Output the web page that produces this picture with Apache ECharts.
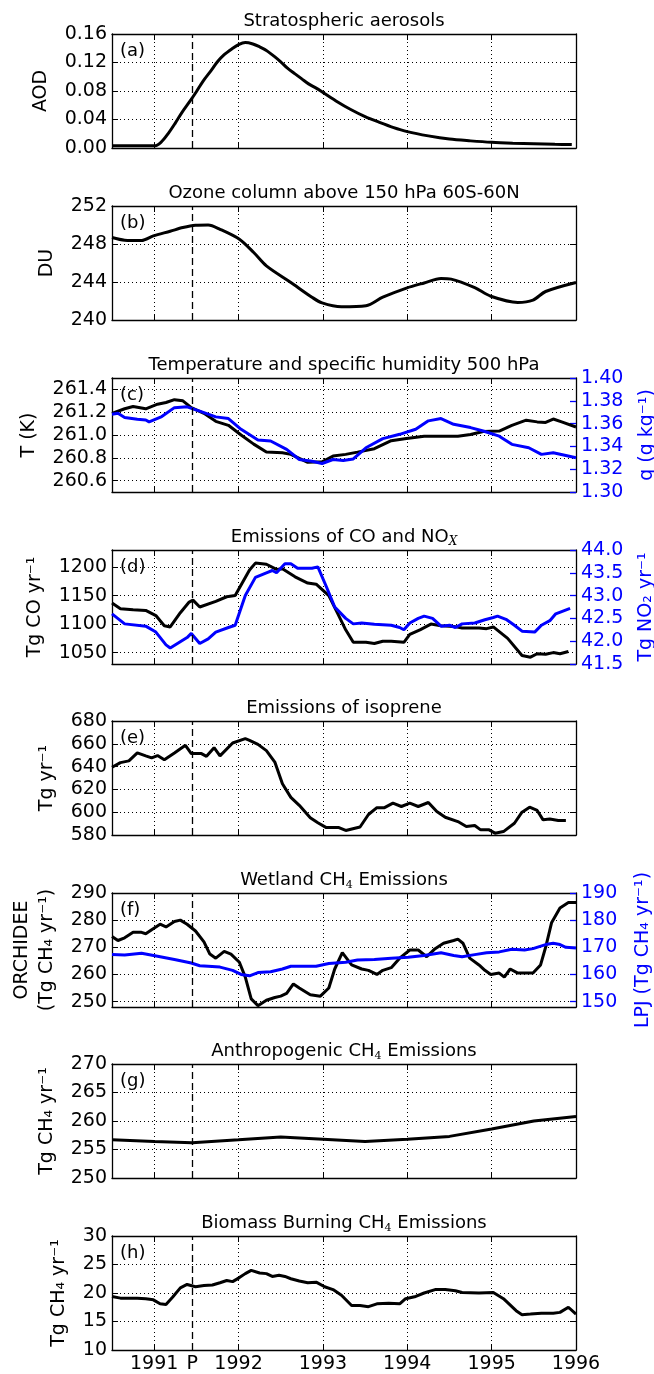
<!DOCTYPE html>
<html>
<head>
<meta charset="utf-8">
<script src="https://cdn.jsdelivr.net/npm/echarts@6.0.0/dist/echarts.min.js"></script>
<style>
  html, body { margin: 0; padding: 0; background: #fff; }
  #main { width: 654px; height: 1374px; }
</style>
</head>
<body>
<div id="main"></div>
<script>
// ---- x axis ----
const yearTicks = [1991, 1992, 1993, 1994, 1995, 1996];
const eruption = 1991.45;   // "P" = Pinatubo
const xLabelVals = [1991, 1991.45, 1992, 1993, 1994, 1995, 1996];

// ---- (a) stratospheric AOD ----
const tAod = [1990.50, 1991.00, 1991.08, 1991.17, 1991.25, 1991.33, 1991.42, 1991.50, 1991.58, 1991.67, 1991.75, 1991.83, 1991.92,
  1992.00, 1992.08, 1992.17, 1992.25, 1992.33, 1992.42, 1992.50, 1992.58, 1992.67, 1992.75, 1992.83, 1992.92,
  1993.00, 1993.17, 1993.33, 1993.50, 1993.67, 1993.83, 1994.00, 1994.25, 1994.50, 1994.75, 1995.00, 1995.25, 1995.50, 1995.75, 1995.95];
const aod = [0.003, 0.003, 0.008, 0.021, 0.035, 0.050, 0.065, 0.079, 0.094, 0.108, 0.121, 0.131, 0.139,
  0.145, 0.148, 0.146, 0.142, 0.137, 0.129, 0.121, 0.112, 0.104, 0.097, 0.090, 0.084,
  0.078, 0.065, 0.054, 0.044, 0.036, 0.029, 0.023, 0.017, 0.0125, 0.010, 0.008, 0.0068, 0.006, 0.0052, 0.0048];
const aodTicks = [0, 0.04, 0.08, 0.12, 0.16];

// ---- (b) ozone column ----
const tOzone = [1990.50, 1990.65, 1990.85, 1990.99, 1991.19, 1991.34, 1991.49, 1991.64, 1991.78, 1992.01, 1992.18, 1992.33,
  1992.62, 1992.87, 1992.99, 1993.22, 1993.51, 1993.71, 1993.99, 1994.20, 1994.40, 1994.52, 1994.80, 1994.99,
  1995.31, 1995.49, 1995.64, 1996.00];
const ozone = [248.68, 248.4, 248.36, 248.85, 249.34, 249.73, 249.97, 250.0, 249.55, 248.5, 247.1, 245.7,
  243.95, 242.4, 241.8, 241.4, 241.5, 242.4, 243.36, 243.9, 244.37, 244.3, 243.4, 242.5,
  241.85, 242.1, 243.0, 243.95];
const ozoneTicks = [240, 244, 248, 252];

// ---- (c) temperature and humidity 500 hPa ----
const tTemp = [1990.50, 1990.65, 1990.75, 1990.90, 1991.04, 1991.14, 1991.24, 1991.34, 1991.44, 1991.59, 1991.73, 1991.88,
  1992.03, 1992.18, 1992.33, 1992.52, 1992.62, 1992.82, 1992.99, 1993.12, 1993.27, 1993.41, 1993.61, 1993.81, 1993.99,
  1994.20, 1994.40, 1994.60, 1994.75, 1994.90, 1995.09, 1995.24, 1995.41, 1995.54, 1995.64, 1995.73, 1995.83, 1996.00];
const temp = [261.19, 261.23, 261.25, 261.23, 261.27, 261.285, 261.31, 261.30, 261.24, 261.19, 261.12, 261.085,
  261.0, 260.92, 260.85, 260.845, 260.83, 260.76, 260.765, 260.815, 260.83, 260.85, 260.88, 260.95, 260.97,
  260.99, 260.99, 260.99, 261.005, 261.03, 261.035, 261.085, 261.13, 261.115, 261.11, 261.14, 261.115, 261.07];
const tHum = [1990.50, 1990.57, 1990.65, 1990.80, 1990.90, 1990.94, 1991.09, 1991.24, 1991.39, 1991.54, 1991.73, 1991.88,
  1992.03, 1992.23, 1992.38, 1992.57, 1992.72, 1992.87, 1992.99, 1993.12, 1993.24, 1993.36, 1993.51, 1993.71, 1993.91,
  1994.10, 1994.25, 1994.40, 1994.55, 1994.75, 1994.90, 1995.09, 1995.24, 1995.44, 1995.59, 1995.73, 1995.88, 1996.00];
const hum = [1.3682, 1.369, 1.3653, 1.3638, 1.3632, 1.3615, 1.3662, 1.374, 1.3747, 1.371, 1.3659, 1.3644,
  1.355, 1.3456, 1.3447, 1.3374, 1.3285, 1.327, 1.325, 1.3285, 1.3276, 1.329, 1.3388, 1.3468, 1.3506,
  1.355, 1.3624, 1.3644, 1.3594, 1.3565, 1.3535, 1.349, 1.3418, 1.3388, 1.333, 1.3344, 1.332, 1.330];
const tempTicks = [260.6, 260.8, 261.0, 261.2, 261.4];
const humTicks = [1.30, 1.32, 1.34, 1.36, 1.38, 1.40];

// ---- (d) CO and NOx emissions ----
const tCO = [1990.50, 1990.60, 1990.75, 1990.90, 1991.02, 1991.12, 1991.19, 1991.31, 1991.41, 1991.46, 1991.54, 1991.73,
  1991.86, 1991.96, 1992.13, 1992.20, 1992.33, 1992.45, 1992.52, 1992.67, 1992.82, 1992.92, 1993.07, 1993.17,
  1993.27, 1993.36, 1993.51, 1993.61, 1993.71, 1993.81, 1993.96, 1994.03, 1994.15, 1994.28, 1994.40, 1994.55,
  1994.65, 1994.85, 1994.94, 1995.02, 1995.19, 1995.36, 1995.46, 1995.54, 1995.64, 1995.73, 1995.81, 1995.91];
const co = [1137, 1127, 1125, 1124, 1115, 1097, 1095, 1120, 1138, 1142, 1130, 1140,
  1148, 1150, 1195, 1207, 1205, 1196, 1197, 1183, 1172, 1170, 1150, 1120,
  1090, 1068, 1068, 1066, 1070, 1070, 1068, 1082, 1090, 1100, 1097, 1096,
  1093, 1093, 1092, 1095, 1075, 1045, 1042, 1048, 1047, 1050, 1048, 1052];
const tNOx = [1990.50, 1990.65, 1990.90, 1991.02, 1991.14, 1991.19, 1991.39, 1991.44, 1991.54, 1991.64, 1991.73, 1991.88,
  1991.96, 1992.08, 1992.20, 1992.33, 1992.40, 1992.45, 1992.55, 1992.62, 1992.70, 1992.87, 1992.94, 1993.04,
  1993.14, 1993.27, 1993.36, 1993.46, 1993.61, 1993.81, 1993.91, 1993.96, 1994.03, 1994.13, 1994.20, 1994.30,
  1994.40, 1994.50, 1994.57, 1994.65, 1994.80, 1994.92, 1995.02, 1995.07, 1995.17, 1995.27, 1995.36, 1995.51,
  1995.59, 1995.69, 1995.76, 1995.83, 1995.93];
const nox = [42.6, 42.38, 42.33, 42.2, 41.92, 41.85, 42.08, 42.17, 41.95, 42.05, 42.2, 42.3,
  42.35, 43.0, 43.4, 43.5, 43.55, 43.5, 43.7, 43.7, 43.6, 43.6, 43.63, 43.2,
  42.75, 42.5, 42.38, 42.4, 42.37, 42.35, 42.3, 42.25, 42.4, 42.5, 42.55, 42.5,
  42.33, 42.35, 42.3, 42.38, 42.4, 42.47, 42.52, 42.55, 42.48, 42.35, 42.22, 42.2,
  42.35, 42.45, 42.6, 42.65, 42.72];
const coTicks = [1050, 1100, 1150, 1200];
const noxTicks = [41.5, 42.0, 42.5, 43.0, 43.5, 44.0];

// ---- (e) isoprene ----
const tIso = [1990.50, 1990.60, 1990.70, 1990.80, 1990.90, 1990.97, 1991.04, 1991.12, 1991.24, 1991.37, 1991.44, 1991.56,
  1991.62, 1991.71, 1991.78, 1991.93, 1992.08, 1992.13, 1992.23, 1992.33, 1992.43, 1992.52, 1992.62, 1992.72,
  1992.85, 1992.94, 1993.04, 1993.19, 1993.27, 1993.44, 1993.54, 1993.64, 1993.73, 1993.83, 1993.93, 1994.03,
  1994.13, 1994.25, 1994.35, 1994.45, 1994.60, 1994.70, 1994.80, 1994.87, 1994.97, 1995.04, 1995.14, 1995.27,
  1995.36, 1995.45, 1995.54, 1995.61, 1995.69, 1995.79, 1995.88];
const iso = [639.4, 643.5, 645, 652, 649.4, 647.6, 649.7, 646, 652, 658.7, 651.4, 651.4,
  649, 656.6, 649.4, 660.7, 664.5, 663, 659.5, 654, 644, 625, 613, 606,
  595.2, 590.8, 586.5, 586.5, 584, 587, 598, 604, 604, 607.9, 605, 607.9,
  605, 608.5, 600.6, 595.6, 591.8, 587.4, 588.3, 584.5, 584.5, 581.6, 583, 590.3,
  600, 604.4, 601.5, 593.3, 594, 592.7, 592.7];
const isoTicks = [580, 600, 620, 640, 660, 680];

// ---- (f) wetland CH4 ----
const tOrch = [1990.50, 1990.57, 1990.65, 1990.75, 1990.85, 1990.90, 1990.97, 1991.07, 1991.14, 1991.24, 1991.31, 1991.39,
  1991.49, 1991.59, 1991.66, 1991.73, 1991.83, 1991.91, 1992.01, 1992.08, 1992.15, 1992.23, 1992.33, 1992.43,
  1992.50, 1992.57, 1992.65, 1992.72, 1992.85, 1992.97, 1993.07, 1993.14, 1993.23, 1993.34, 1993.46, 1993.54,
  1993.64, 1993.71, 1993.81, 1993.91, 1994.03, 1994.13, 1994.23, 1994.33, 1994.43, 1994.55, 1994.60, 1994.66,
  1994.74, 1994.85, 1994.92, 1994.99, 1995.09, 1995.15, 1995.22, 1995.31, 1995.49, 1995.58, 1995.64, 1995.71,
  1995.81, 1995.91, 1996.00];
const orchidee = [274, 272.5, 273.5, 275.5, 275.5, 275, 276.5, 278.5, 277.5, 279.5, 280, 278.5,
  276, 272, 267.5, 266, 268.5, 267.5, 264.5, 259, 251, 248.5, 250.5, 251.5,
  252, 253, 256.5, 255, 252.5, 252, 255, 262, 268, 263.5, 262, 261.5,
  260, 261.5, 262.5, 266, 269, 269, 266.5, 269.5, 271.5, 272.5, 273, 271.5,
  266, 263.5, 261.5, 260, 260.5, 259, 262, 260.5, 260.5, 263.5, 270, 279,
  284.5, 286.5, 286.5];
const tLpj = [1990.50, 1990.65, 1990.85, 1991.04, 1991.24, 1991.44, 1991.54, 1991.64, 1991.78, 1991.93, 1992.03, 1992.13,
  1992.23, 1992.38, 1992.52, 1992.62, 1992.77, 1992.92, 1993.07, 1993.27, 1993.41, 1993.61, 1993.81, 1994.01,
  1994.20, 1994.40, 1994.55, 1994.65, 1994.80, 1994.94, 1995.09, 1995.24, 1995.39, 1995.49, 1995.64, 1995.73,
  1995.81, 1995.88, 1996.00];
const lpj = [167.3, 167.2, 167.8, 166.7, 165.5, 164.2, 163.2, 163, 162.7, 161.5, 160, 159.5,
  160.7, 161, 162, 163, 163, 163, 164, 164.5, 165.3, 165.5, 166, 166.3,
  167, 168, 167, 166.5, 167.3, 168, 168.3, 169.3, 169, 169.5, 171, 171.5,
  171, 170, 169.7];
const orchTicks = [250, 260, 270, 280, 290];
const lpjTicks = [150, 160, 170, 180, 190];

// ---- (g) anthropogenic CH4 ----
const tAnth = [1990.5, 1991.0, 1991.45, 1992.0, 1992.5, 1993.0, 1993.5, 1994.0, 1994.5, 1995.0, 1995.5, 1996.0];
const anth = [256.7, 256.4, 256.2, 256.7, 257.2, 256.8, 256.4, 256.8, 257.3, 258.6, 260.0, 260.8];
const anthTicks = [250, 255, 260, 265, 270];

// ---- (h) biomass burning CH4 ----
const tBB = [1990.50, 1990.60, 1990.80, 1990.90, 1990.99, 1991.07, 1991.14, 1991.22, 1991.31, 1991.39, 1991.49, 1991.59,
  1991.69, 1991.78, 1991.86, 1991.93, 1992.01, 1992.08, 1992.15, 1992.25, 1992.33, 1992.40, 1992.48, 1992.55,
  1992.62, 1992.72, 1992.82, 1992.92, 1993.02, 1993.12, 1993.22, 1993.34, 1993.44, 1993.54, 1993.64, 1993.78,
  1993.91, 1993.98, 1994.10, 1994.20, 1994.33, 1994.45, 1994.57, 1994.65, 1994.85, 1995.02, 1995.14, 1995.29,
  1995.36, 1995.46, 1995.59, 1995.73, 1995.81, 1995.91, 1996.00];
const bb = [19.4, 19.1, 19.1, 19.0, 18.8, 18.1, 18.0, 19.3, 20.9, 21.5, 21.1, 21.3,
  21.4, 21.8, 22.2, 22.0, 22.7, 23.4, 23.96, 23.5, 23.4, 22.9, 23.1, 22.9,
  22.5, 22.1, 21.8, 21.9, 21.1, 20.6, 19.6, 17.8, 17.8, 17.6, 18.1, 18.2,
  18.1, 19.0, 19.4, 20.0, 20.6, 20.6, 20.4, 20.1, 20.0, 20.1, 19.0, 16.9,
  16.2, 16.3, 16.45, 16.45, 16.6, 17.5, 16.3];
const bbTicks = [10, 15, 20, 25, 30];

// ---- layout / styling ----
const BLUE = '#0000ff';
const FONT = 'DejaVu Sans';
const TICK_FS = 19;
const gridTops = [34, 206, 378, 550, 721, 893, 1064, 1236];
const gridH = 114, gridL = 112, gridW = 464;

const panels = [
  { tag: '(a)', title: 'Stratospheric aerosols',
    left: { name: 'AOD', min: 0, max: 0.16, ticks: aodTicks, dec: 2, gap: 51 },
    lines: [{ t: tAod, v: aod, smooth: true }] },
  { tag: '(b)', title: 'Ozone column above 150 hPa 60S-60N',
    left: { name: 'DU', min: 240, max: 252, ticks: ozoneTicks, dec: 0, gap: 46 },
    lines: [{ t: tOzone, v: ozone, smooth: true }] },
  { tag: '(c)', title: 'Temperature and specific humidity 500 hPa',
    left: { name: 'T (K)', min: 260.5, max: 261.5, ticks: tempTicks, dec: 1, gap: 58 },
    right: { name: 'q (g kg\u207B\u00B9)', min: 1.30, max: 1.40, ticks: humTicks, dec: 2, gap: 62 },
    lines: [{ t: tTemp, v: temp }, { t: tHum, v: hum, right: true }] },
  { tag: '(d)', title: 'Emissions of CO and NO{x|X}',
    left: { name: 'Tg CO yr\u207B\u00B9', min: 1030, max: 1230, ticks: coTicks, dec: 0, gap: 60 },
    right: { name: 'Tg NO\u2082 yr\u207B\u00B9', min: 41.5, max: 44.0, ticks: noxTicks, dec: 1, gap: 61 },
    lines: [{ t: tCO, v: co }, { t: tNOx, v: nox, right: true }] },
  { tag: '(e)', title: 'Emissions of isoprene',
    left: { name: 'Tg yr\u207B\u00B9', min: 580, max: 680, ticks: isoTicks, dec: 0, gap: 46 },
    lines: [{ t: tIso, v: iso }] },
  { tag: '(f)', title: 'Wetland CH{s|4} Emissions',
    left: { name: 'ORCHIDEE\n(Tg CH\u2084 yr\u207B\u00B9)', min: 248, max: 290, ticks: orchTicks, dec: 0, gap: 50 },
    right: { name: 'LPJ (Tg CH\u2084 yr\u207B\u00B9)', min: 148, max: 190, ticks: lpjTicks, dec: 0, gap: 58 },
    lines: [{ t: tOrch, v: orchidee }, { t: tLpj, v: lpj, right: true }] },
  { tag: '(g)', title: 'Anthropogenic CH{s|4} Emissions',
    left: { name: 'Tg CH\u2084 yr\u207B\u00B9', min: 250, max: 270, ticks: anthTicks, dec: 0, gap: 50 },
    lines: [{ t: tAnth, v: anth }] },
  { tag: '(h)', title: 'Biomass Burning CH{s|4} Emissions',
    left: { name: 'Tg CH\u2084 yr\u207B\u00B9', min: 10, max: 30, ticks: bbTicks, dec: 0, gap: 40 },
    lines: [{ t: tBB, v: bb }] }
];

const grid = [], xAxis = [], yAxis = [], series = [], title = [];
const dotted = { color: '#000', width: 1, type: [1, 3] };
const spine = { color: '#000', width: 1.3 };

panels.forEach((p, i) => {
  const top = gridTops[i];
  // fixed plot boxes: don't let v6 shrink the grid to fit axis names
  grid.push({ left: gridL, width: gridW, top: top, height: gridH, outerBoundsMode: 'none' });

  title.push({
    text: p.title, left: gridL + gridW / 2, textAlign: 'center', top: top - 24, padding: 0,
    textStyle: {
      fontFamily: FONT, fontSize: 18, fontWeight: 'normal', color: '#000', lineHeight: 22,
      rich: {
        s: { fontFamily: 'DejaVu Serif', fontSize: 11, verticalAlign: 'bottom', lineHeight: 11, color: '#000' },
        x: { fontFamily: 'DejaVu Serif', fontStyle: 'italic', fontSize: 12, verticalAlign: 'bottom', lineHeight: 11, color: '#000' }
      }
    }
  });
  title.push({
    text: p.tag, left: gridL + 8, top: top + 8, padding: 0,
    textStyle: { fontFamily: FONT, fontSize: 18, fontWeight: 'normal', color: '#000' }
  });

  // bottom and mirrored top x axes
  xAxis.push({
    gridIndex: i, type: 'value', min: 1990.5, max: 1996, position: 'bottom',
    axisLine: { onZero: false, lineStyle: spine },
    axisTick: { inside: true, length: 6, customValues: yearTicks, lineStyle: { color: '#000', width: 1 } },
    axisLabel: {
      show: i === panels.length - 1, customValues: xLabelVals, margin: 5,
      fontFamily: FONT, fontSize: TICK_FS, color: '#000',
      formatter: v => (Math.abs(v - eruption) < 1e-6 ? 'P' : String(v))
    },
    splitLine: { show: true, lineStyle: dotted }
  });
  xAxis.push({
    gridIndex: i, type: 'value', min: 1990.5, max: 1996, position: 'top',
    axisLine: { onZero: false, lineStyle: spine },
    axisTick: { inside: true, length: 6, customValues: yearTicks, lineStyle: { color: '#000', width: 1 } },
    axisLabel: { show: false }, splitLine: { show: false }
  });

  const L = p.left;
  yAxis.push({
    gridIndex: i, type: 'value', min: L.min, max: L.max, position: 'left',
    name: L.name, nameLocation: 'middle', nameRotate: 90, nameGap: L.gap,
    nameTextStyle: { fontFamily: FONT, fontSize: 19, color: '#000', lineHeight: 25 },
    axisLine: { onZero: false, lineStyle: spine },
    axisTick: { inside: true, length: 6, customValues: L.ticks, lineStyle: { color: '#000', width: 1 } },
    axisLabel: { customValues: L.ticks, margin: 5, fontFamily: FONT, fontSize: TICK_FS, color: '#000',
      formatter: v => v.toFixed(L.dec) },
    splitLine: { show: true, lineStyle: dotted }
  });
  const R = p.right;
  if (R) {
    yAxis.push({
      gridIndex: i, type: 'value', min: R.min, max: R.max, position: 'right',
      name: R.name, nameLocation: 'middle', nameRotate: 90, nameGap: R.gap,
      nameTextStyle: { fontFamily: FONT, fontSize: 19, color: BLUE },
      axisLine: { onZero: false, lineStyle: spine },
      axisTick: { inside: true, length: 6, customValues: R.ticks, lineStyle: { color: BLUE, width: 1.3 } },
      axisLabel: { customValues: R.ticks, margin: 5, fontFamily: FONT, fontSize: TICK_FS, color: BLUE,
        formatter: v => v.toFixed(R.dec) },
      splitLine: { show: false }
    });
  } else {
    yAxis.push({
      gridIndex: i, type: 'value', min: L.min, max: L.max, position: 'right',
      axisLine: { onZero: false, lineStyle: spine },
      axisTick: { inside: true, length: 6, customValues: L.ticks, lineStyle: { color: '#000', width: 1 } },
      axisLabel: { show: false }, splitLine: { show: false }
    });
  }

  p.lines.forEach((ln, k) => {
    const s = {
      type: 'line', xAxisIndex: 2 * i, yAxisIndex: ln.right ? 2 * i + 1 : 2 * i,
      data: ln.t.map((t, j) => [t, ln.v[j]]),
      showSymbol: false, smooth: ln.smooth ? 0.3 : false,
      lineStyle: { color: ln.right ? BLUE : '#000', width: 3 },
      z: ln.right ? 4 : 3
    };
    if (k === 0) {
      s.markLine = {
        silent: true, symbol: ['none', 'none'], label: { show: false },
        lineStyle: { color: '#000', type: [7, 4], width: 1.3 },
        data: [{ xAxis: eruption }]
      };
    }
    series.push(s);
  });
});

const chart = echarts.init(document.getElementById('main'));
chart.setOption({
  animation: false,
  backgroundColor: '#fff',
  title: title,
  grid: grid,
  xAxis: xAxis,
  yAxis: yAxis,
  series: series
});
</script>
</body>
</html>
